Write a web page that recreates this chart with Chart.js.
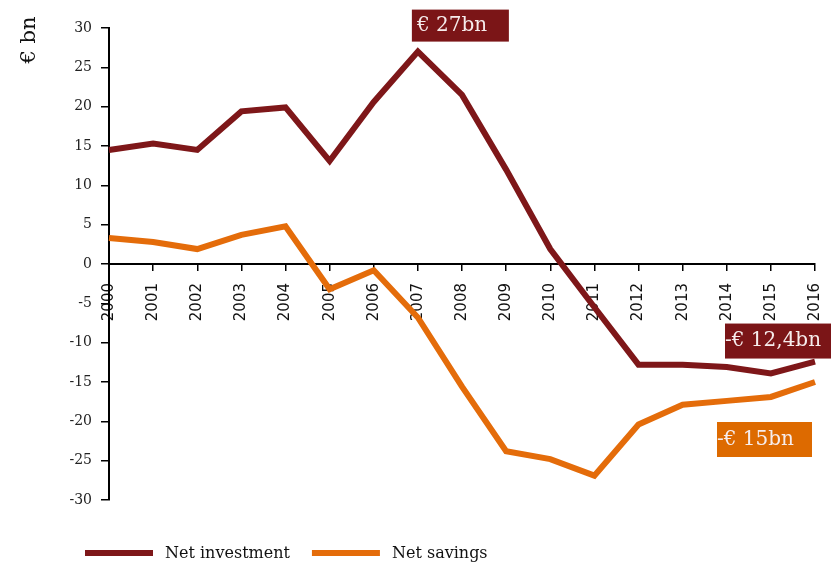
<!DOCTYPE html>
<html>
<head>
<meta charset="utf-8">
<script src="https://cdn.jsdelivr.net/npm/chart.js@4/dist/chart.umd.min.js"></script>
<style>
  html, body { margin: 0; padding: 0; background: #fff; }
  #wrap { width: 831px; height: 566px; position: relative; }
</style>
</head>
<body>
<div id="wrap"><canvas id="chart" width="831" height="566"></canvas></div>
<script>
// Data
const years = ["2000", "2001", "2002", "2003", "2004", "2005", "2006", "2007", "2008",
  "2009", "2010", "2011", "2012", "2013", "2014", "2015", "2016"];
const netInvestment = [14.5, 15.3, 14.5, 19.4, 19.9, 13.1, 20.6, 27, 21.5,
  12.0, 1.9, -5.5, -12.8, -12.8, -13.1, -13.9, -12.4];
const netSavings = [3.3, 2.8, 1.9, 3.7, 4.8, -3.2, -0.8, -6.8, -15.6,
  -23.8, -24.8, -26.9, -20.4, -17.9, -17.4, -16.9, -15];
const yTicks = [-30, -25, -20, -15, -10, -5, 0, 5, 10, 15, 20, 25, 30];

const RED = "#7e1719";
const ORANGE = "#e46c0a";
const SERIF = "'DejaVu Serif', serif";

// Callout boxes placed next to a data point
const callouts = [
  { ds: 0, idx: 7, text: "€ 27bn", bg: "#7b1517", dx: -6, dy: -42, w: 97, h: 32, pad: 5 },
  { ds: 0, idx: 16, text: "-€ 12,4bn", bg: "#7b1517", dx: -90, dy: -38, w: 106, h: 35, pad: 0 },
  { ds: 1, idx: 16, text: "-€ 15bn", bg: "#dd6a00", dx: -98, dy: 40, w: 95, h: 35, pad: 0 }
];

const extras = {
  id: "extras",
  afterDatasetsDraw(chart) {
    const ctx = chart.ctx;
    ctx.save();

    // callouts
    callouts.forEach(function (c) {
      const pt = chart.getDatasetMeta(c.ds).data[c.idx];
      const x = pt.x + c.dx;
      const y = pt.y + c.dy;
      ctx.fillStyle = c.bg;
      ctx.fillRect(x, y, c.w, c.h);
      ctx.fillStyle = "#f6ecec";
      ctx.font = "20px " + SERIF;
      ctx.textBaseline = "middle";
      ctx.textAlign = "left";
      ctx.fillText(c.text, x + c.pad, y + c.h / 2);
    });

    // y axis title
    ctx.save();
    ctx.translate(30, 40);
    ctx.rotate(-Math.PI / 2);
    ctx.fillStyle = "#111";
    ctx.font = "21px " + SERIF;
    ctx.textAlign = "center";
    ctx.textBaseline = "middle";
    ctx.fillText("€ bn", 0, 0);
    ctx.restore();

    // legend
    let lx = 85;
    const ly = 553;
    ctx.font = "16px " + SERIF;
    ctx.textBaseline = "middle";
    chart.data.datasets.forEach(function (ds) {
      ctx.strokeStyle = ds.borderColor;
      ctx.lineWidth = 6;
      ctx.beginPath();
      ctx.moveTo(lx, ly);
      ctx.lineTo(lx + 68, ly);
      ctx.stroke();
      ctx.fillStyle = "#111";
      ctx.fillText(ds.label, lx + 80, ly + 1);
      lx += 80 + ctx.measureText(ds.label).width + 22;
    });

    ctx.restore();
  }
};

new Chart(document.getElementById("chart"), {
  type: "line",
  data: {
    labels: years,
    datasets: [
      {
        label: "Net investment",
        data: netInvestment,
        borderColor: RED,
        backgroundColor: RED,
        borderWidth: 6,
        pointRadius: 0,
        tension: 0
      },
      {
        label: "Net savings",
        data: netSavings,
        borderColor: ORANGE,
        backgroundColor: ORANGE,
        borderWidth: 6,
        pointRadius: 0,
        tension: 0
      }
    ]
  },
  options: {
    responsive: false,
    animation: false,
    layout: { padding: { left: 0, right: 16, top: 28, bottom: 66 } },
    plugins: {
      legend: { display: false },
      tooltip: { enabled: false }
    },
    scales: {
      x: {
        type: "category",
        offset: false,
        position: { y: 0 },
        afterFit: function (scale) {
          scale.paddingLeft = 0;
          scale.paddingRight = 0;
        },
        border: { display: true, color: "#000", width: 2 },
        grid: { drawOnChartArea: false, drawTicks: true, tickLength: 6, color: "#000", lineWidth: 1.5 },
        ticks: {
          minRotation: 90,
          maxRotation: 90,
          autoSkip: false,
          padding: 13,
          color: "#111",
          font: { family: "'DejaVu Sans', sans-serif", size: 15 }
        }
      },
      y: {
        min: -30,
        max: 30,
        afterFit: function (scale) { scale.width = 109; },
        afterBuildTicks: function (scale) {
          scale.ticks = yTicks.map(function (v) { return { value: v }; });
        },
        border: { display: true, color: "#000", width: 2 },
        grid: { drawOnChartArea: false, drawTicks: true, tickLength: 8, color: "#000", lineWidth: 1.5 },
        ticks: {
          padding: 9,
          color: "#222",
          font: { family: SERIF, size: 14 }
        }
      }
    }
  },
  plugins: [extras]
});
</script>
</body>
</html>
